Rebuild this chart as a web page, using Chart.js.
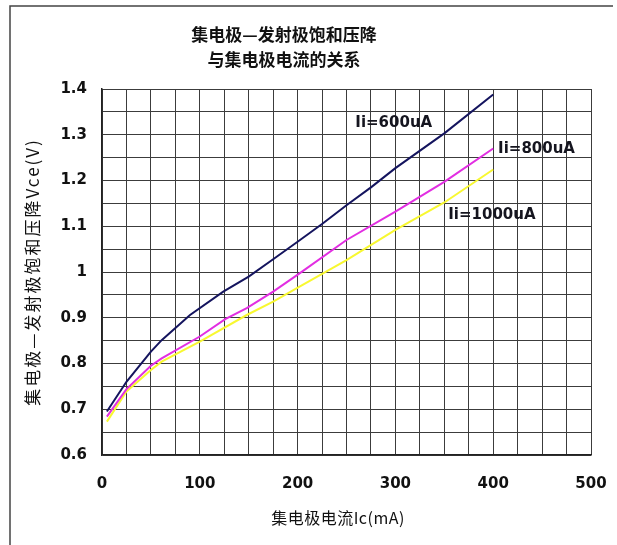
<!DOCTYPE html>
<html>
<head>
<meta charset="utf-8">
<script src="https://cdn.jsdelivr.net/npm/chart.js@4/dist/chart.umd.min.js"></script>
<style>
  html, body { margin: 0; padding: 0; background: #fff; }
  #wrap { position: relative; width: 617px; height: 545px; }
</style>
</head>
<body>
<div id="wrap"><canvas id="vceChart" width="617" height="545"></canvas></div>
<script>
// ── Data ──
const seriesNames = ["Ii=600uA", "Ii=800uA", "Ii=1000uA"];

const ic600 = [5, 25, 50, 61, 90, 124, 150, 175, 200, 225, 250, 275, 300, 350, 400];
const vce600 = [0.695, 0.760, 0.826, 0.851, 0.906, 0.957, 0.990, 1.028, 1.066, 1.105, 1.146, 1.185, 1.227, 1.303, 1.388];

const ic800 = [5, 25, 50, 61, 100, 126, 148, 175, 202, 250, 300, 350, 400];
const vce800 = [0.684, 0.744, 0.795, 0.811, 0.859, 0.897, 0.921, 0.957, 0.997, 1.070, 1.132, 1.197, 1.270];

const ic1000 = [5, 25, 50, 61, 100, 148, 175, 202, 250, 300, 350, 400];
const vce1000 = [0.673, 0.739, 0.786, 0.804, 0.848, 0.906, 0.935, 0.968, 1.026, 1.092, 1.152, 1.224];

const xTickLabels = [0, 100, 200, 300, 400, 500];
const yTickLabels = ["0.6", "0.7", "0.8", "0.9", "1", "1.1", "1.2", "1.3", "1.4"];

const titleLines = ["集电极—发射极饱和压降", "与集电极电流的关系"];
const yTitle = "集电极—发射极饱和压降Vce(V)";
const xTitle = "集电极电流Ic(mA)";

// where each curve's label sits, in data units (Ic, Vce)
const labelAnchors = [[259, 1.326], [405, 1.269], [354, 1.125]];

const toPoints = (xs, ys) => xs.map((x, i) => ({ x, y: ys[i] }));
const colors = ["#14145e", "#e22ee2", "#f8f830"];

// ── Extra drawing: frame, titles, curve labels ──
const decorations = {
  id: "decorations",
  beforeDraw(chart) {
    const c = chart.ctx;
    c.save();
    c.fillStyle = "#fff";
    c.fillRect(0, 0, chart.width, chart.height);
    c.restore();
  },
  afterDraw(chart) {
    const c = chart.ctx;
    const { x, y } = chart.scales;
    c.save();

    // frame
    c.strokeStyle = "#444";
    c.lineWidth = 1.5;
    c.beginPath();
    c.moveTo(10, 545);
    c.lineTo(10, 6);
    c.lineTo(613, 6);
    c.stroke();

    // main title
    c.fillStyle = "#111";
    c.textAlign = "center";
    c.textBaseline = "middle";
    c.font = "bold 17px 'Noto Sans CJK SC'";
    c.fillText(titleLines[0], 284, 35);
    c.fillText(titleLines[1], 284, 60);

    // x title
    c.font = "16px 'Noto Sans CJK SC'";
    c.letterSpacing = "0.5px";
    c.fillText(xTitle, 338, 518);

    // y title
    c.save();
    c.translate(33, 272);
    c.rotate(-Math.PI / 2);
    c.font = "17px 'Noto Sans CJK SC'";
    c.letterSpacing = "2px";
    c.fillText(yTitle, 0, 0);
    c.restore();
    c.letterSpacing = "0px";

    // curve labels
    c.textAlign = "left";
    c.font = "bold 15px 'DejaVu Sans'";
    c.fillStyle = "#15151f";
    labelAnchors.forEach(([ax, ay], i) => {
      c.fillText(seriesNames[i], x.getPixelForValue(ax), y.getPixelForValue(ay));
    });
    c.restore();
  },
};

const tickFont = { family: "DejaVu Sans", size: 15, weight: "bold" };
const gridStyle = { color: "#3c3c3c", lineWidth: 1, drawTicks: false };

new Chart(document.getElementById("vceChart"), {
  type: "line",
  data: {
    datasets: [
      { label: seriesNames[0], data: toPoints(ic600, vce600), borderColor: colors[0] },
      { label: seriesNames[1], data: toPoints(ic800, vce800), borderColor: colors[1] },
      { label: seriesNames[2], data: toPoints(ic1000, vce1000), borderColor: colors[2] },
    ].map((d) => ({ ...d, borderWidth: 2, pointRadius: 0, tension: 0, fill: false })),
  },
  options: {
    responsive: false,
    animation: false,
    devicePixelRatio: 1,
    layout: { padding: { top: 89, right: 26, left: 0, bottom: 0 } },
    plugins: { legend: { display: false }, title: { display: false }, tooltip: { enabled: false } },
    scales: {
      x: {
        type: "linear",
        min: 0,
        max: 500,
        grid: gridStyle,
        border: { color: "#222", width: 1.5 },
        ticks: {
          stepSize: 25,
          autoSkip: false,
          maxRotation: 0,
          padding: 20,
          color: "#111",
          font: tickFont,
          callback: (v) => (xTickLabels.includes(v) ? String(v) : ""),
        },
        afterFit: (s) => {
          s.height = 90;
          // tick padding otherwise inflates the side padding
          s.paddingLeft = 0;
          s.paddingRight = 0;
        },
      },
      y: {
        min: 0.6,
        max: 1.4,
        grid: gridStyle,
        border: { color: "#222", width: 1.5 },
        ticks: {
          stepSize: 0.05,
          autoSkip: false,
          padding: 15,
          color: "#111",
          font: tickFont,
          callback: (v) => {
            const s = String(Math.round(v * 100) / 100);
            return yTickLabels.includes(s) ? s : "";
          },
        },
        afterFit: (s) => { s.width = 102; },
      },
    },
  },
  plugins: [decorations],
});
</script>
</body>
</html>
